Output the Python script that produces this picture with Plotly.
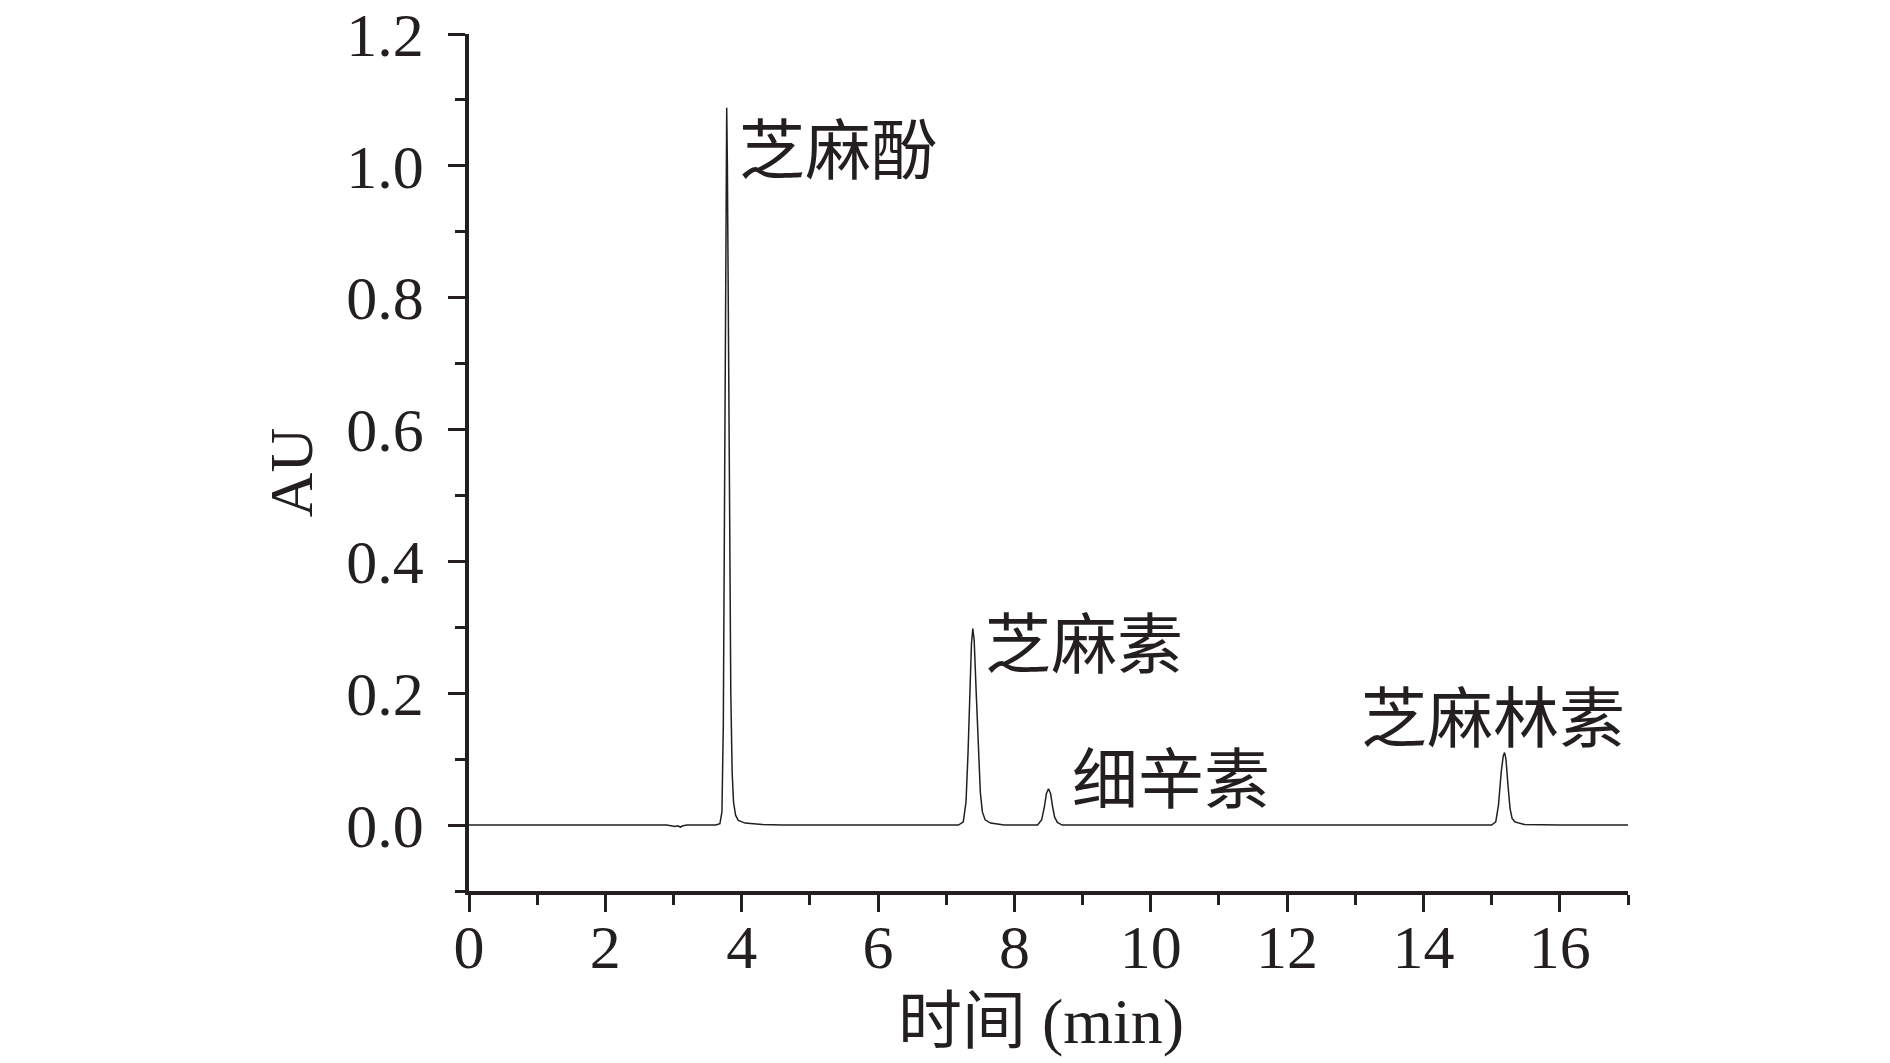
import plotly.graph_objects as go

# Chromatogram trace (time in min, absorbance in AU)
time_min = [0.0, 1.0, 2.0, 2.9, 3.02, 3.06, 3.10, 3.14, 3.2, 3.5, 3.62, 3.68, 3.71, 3.73, 3.75, 3.77, 3.78,
            3.79, 3.80, 3.82, 3.84, 3.86, 3.88, 3.91, 3.95, 4.05, 4.3, 4.6, 5.5, 6.1, 6.2, 7.18,
            7.25, 7.29, 7.32, 7.35, 7.37, 7.39, 7.41, 7.44, 7.47, 7.50, 7.53, 7.57, 7.65, 7.85,
            8.34, 8.40, 8.44, 8.47, 8.50, 8.53, 8.56, 8.59, 8.63, 8.70, 10.0, 12.0, 14.0, 15.0,
            15.06, 15.10, 15.14, 15.17, 15.19, 15.21, 15.24, 15.27, 15.30, 15.34, 15.40, 15.48, 16.0, 17.0]
absorb_au = [0.0, 0.0, 0.0, 0.0, -0.002, -0.001, -0.003, -0.001, 0.0, 0.0, 0.0, 0.002, 0.02, 0.15, 0.55, 1.0, 1.088,
             1.0, 0.80, 0.45, 0.20, 0.08, 0.035, 0.015, 0.007, 0.003, 0.001, 0.0, 0.0, 0.0, 0.0, 0.0,
             0.005, 0.035, 0.11, 0.21, 0.275, 0.298, 0.28, 0.20, 0.11, 0.05, 0.02, 0.008, 0.003, 0.0,
             0.0, 0.008, 0.028, 0.048, 0.055, 0.048, 0.028, 0.012, 0.004, 0.0, 0.0, 0.0, 0.0, 0.0,
             0.005, 0.03, 0.08, 0.105, 0.11, 0.10, 0.06, 0.025, 0.01, 0.005, 0.003, 0.001, 0.0, 0.0]

peak_names = ["芝麻酚", "芝麻素", "细辛素", "芝麻林素"]
label_x = [3.93, 7.54, 8.82, 13.05]
label_y = [1.032, 0.282, 0.077, 0.170]

x_ticks = [0, 2, 4, 6, 8, 10, 12, 14, 16]
y_ticks = [0.0, 0.2, 0.4, 0.6, 0.8, 1.0, 1.2]

x_title = "时间 (min)"
y_title = "AU"

ink = "#231f20"
latin = "Liberation Serif, Noto Sans CJK SC"

fig = go.Figure()
fig.add_trace(go.Scatter(x=time_min, y=absorb_au, mode="lines",
                         line=dict(color=ink, width=1.5), showlegend=False,
                         hoverinfo="skip"))

for name, lx, ly in zip(peak_names, label_x, label_y):
    fig.add_annotation(x=lx, y=ly, xref="x", yref="y", text=name, showarrow=False,
                       xanchor="left", yanchor="middle",
                       font=dict(family="Noto Sans CJK SC", size=66, color=ink))

fig.add_annotation(x=0.4935, y=-0.152, xref="paper", yref="paper", text=x_title, showarrow=False,
                   xanchor="center", yanchor="middle",
                   font=dict(family=latin, size=64, color=ink))
fig.add_annotation(x=-0.154, y=0.488, xref="paper", yref="paper", text=y_title, showarrow=False,
                   xanchor="center", yanchor="middle", textangle=-90,
                   font=dict(family=latin, size=62, color=ink))

axis_common = dict(showline=True, linecolor=ink, linewidth=3.5, ticks="outside",
                   ticklen=17, tickwidth=3, tickcolor=ink, showgrid=False, zeroline=False,
                   tickfont=dict(family=latin, size=62, color=ink), mirror=False,
                   automargin=False, ticklabeloverflow="allow")

fig.update_layout(
    width=1890, height=1063,
    margin=dict(l=461, r=270, t=26, b=180),
    paper_bgcolor="white", plot_bgcolor="white",
    xaxis=dict(range=[0, 17], tickvals=x_ticks, ticktext=[str(v) for v in x_ticks],
               minor=dict(ticks="outside", ticklen=10, tickwidth=3, tickcolor=ink, dtick=1, tick0=0),
               ticklabelstandoff=-18,
               **axis_common),
    yaxis=dict(range=[-0.1, 1.2], tickvals=y_ticks, ticktext=[f"{v:.1f}" for v in y_ticks],
               minor=dict(ticks="outside", ticklen=10, tickwidth=3, tickcolor=ink, dtick=0.1, tick0=0),
               ticklabelstandoff=12,
               **axis_common),
)

fig.write_html("out.html")
